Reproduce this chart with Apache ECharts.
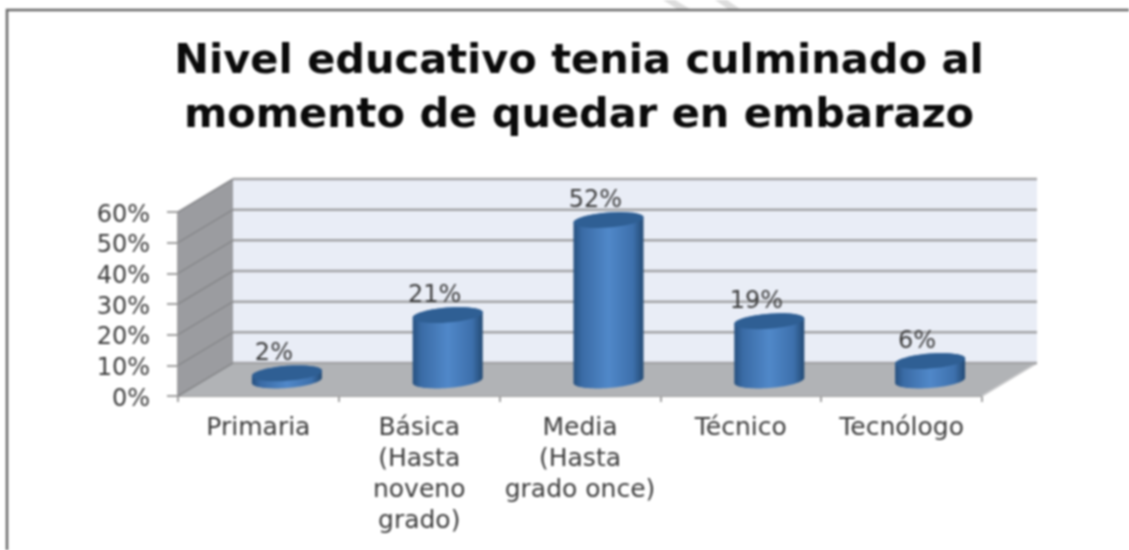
<!DOCTYPE html>
<html>
<head>
<meta charset="utf-8">
<style>html,body{margin:0;padding:0;background:#fff}#c{width:1129px;height:550px;filter:blur(0.8px)}</style>
<script src="https://cdn.jsdelivr.net/npm/echarts@6/dist/echarts.min.js"></script>
</head>
<body>
<div id="c"></div>
<script>
const categories = ['Primaria', 'Básica\n(Hasta\nnoveno\ngrado)', 'Media\n(Hasta\ngrado once)', 'Técnico', 'Tecnólogo'];
const values = [2, 21, 52, 19, 6];
const yTicks = [0, 10, 20, 30, 40, 50, 60];
const titleLines = ['Nivel educativo tenia culminado al', 'momento de quedar en embarazo'];

const DX = 55, DY = -33;          // oblique depth of the 3D box
const UI = '"DejaVu Sans", sans-serif';

const chart = echarts.init(document.getElementById('c'), null, {renderer: 'canvas'});

function wallItem(params, api) {
  const cs = params.coordSys;
  const x0 = cs.x, x1 = cs.x + cs.width, yb = cs.y + cs.height, yt = cs.y;
  const shape = pts => ({points: pts});
  return {type: 'group', children: [
    {type: 'polygon', shape: shape([[x0 + DX, yt + DY], [x1 + DX, yt + DY], [x1 + DX, yb + DY], [x0 + DX, yb + DY]]), style: {fill: '#e9edf6'}},
    {type: 'polygon', shape: shape([[x0, yt], [x0 + DX, yt + DY], [x0 + DX, yb + DY], [x0, yb]]), style: {fill: '#9b9ca0'}},
    {type: 'polygon', shape: shape([[x0, yb], [x1, yb], [x1 + DX, yb + DY], [x0 + DX, yb + DY]]), style: {fill: '#b1b3b6'}},
    {type: 'polyline', shape: shape([[x1, yb], [x1 + DX, yb + DY]]), style: {stroke: '#c9c9cb', lineWidth: 1.5, fill: 'none'}}
  ]};
}

function gridItem(params, api) {
  const cs = params.coordSys;
  const y = api.coord([0, api.value(1)])[1];
  return {type: 'group', children: [
    {type: 'polyline', shape: {points: [[cs.x + DX, y + DY], [cs.x + cs.width + DX, y + DY]]},
      style: {stroke: '#a3a4a6', lineWidth: 2.5, fill: 'none'}},
    {type: 'polyline', shape: {points: [[cs.x, y], [cs.x + DX, y + DY]]},
      style: {stroke: '#87888b', lineWidth: 1.5, fill: 'none'}}
  ]};
}

function ellipsePts(cx, cy, rx, ry, from, to) {
  const pts = [], n = 40;
  for (let i = 0; i <= n; i++) {
    const t = from + (to - from) * i / n;
    const ex = rx * Math.cos(t);
    pts.push([cx + ex, cy + ry * Math.sin(t) - 0.075 * ex]);
  }
  return pts;
}

function cylItem(params, api) {
  const top = api.coord([api.value(0), api.value(1)]);
  const base = api.coord([api.value(0), 0]);
  const cx = top[0] + DX / 2 + 1, ty = top[1] + DY / 2, by = base[1] + DY / 2 + 1;
  const rx = 35, ry = 7.5;
  const body = ellipsePts(cx, ty, rx, ry, Math.PI, 2 * Math.PI).concat(ellipsePts(cx, by, rx, ry, 0, Math.PI));
  return {type: 'group', children: [
    {type: 'polygon', shape: {points: body}, style: {
      fill: new echarts.graphic.LinearGradient(0, 0, 1, 0, [
        {offset: 0, color: '#26507f'}, {offset: 0.12, color: '#3a6ba5'},
        {offset: 0.5, color: '#5088c9'}, {offset: 0.85, color: '#3d70ac'}, {offset: 1, color: '#234a74'}])}},
    {type: 'polygon', shape: {points: ellipsePts(cx, ty, rx, ry, 0, 2 * Math.PI)}, style: {fill: '#2f5f94'}},
    {type: 'text', style: {text: values[params.dataIndex] + '%', x: cx - 13, y: top[1] - 36,
      align: 'center', verticalAlign: 'middle', font: '24px ' + UI, fill: '#3c3c3c'}}
  ]};
}

chart.setOption({
  animation: false,
  backgroundColor: '#fff',
  title: {
    text: titleLines.join('\n'), left: 574, top: 30, textAlign: 'center',
    textStyle: {fontFamily: UI, fontWeight: 'bold', fontSize: 41.5, lineHeight: 54, color: '#0a0a0a'}
  },
  grid: {left: 178, right: 147, top: 212, bottom: 154},
  xAxis: {
    type: 'category', data: categories, boundaryGap: true,
    axisLine: {lineStyle: {color: '#a0a0a0', width: 2}},
    axisTick: {show: true, alignWithLabel: false, length: 6, lineStyle: {color: '#a0a0a0', width: 2}},
    axisLabel: {interval: 0, fontFamily: UI, fontSize: 25, lineHeight: 31, color: '#3c3c3c', margin: 17}
  },
  yAxis: {
    type: 'value', min: 0, max: 60, interval: 10,
    axisLine: {show: true, lineStyle: {color: '#a0a0a0', width: 2}},
    axisTick: {show: true, length: 11, lineStyle: {color: '#a0a0a0', width: 2}},
    axisLabel: {formatter: '{value}%', fontFamily: UI, fontSize: 24, color: '#3c3c3c', margin: 28, verticalAlign: 'top', lineHeight: 7},
    splitLine: {show: false}
  },
  graphic: [
    {type: 'polygon', shape: {points: [[663, 0], [675, 0], [690, 9], [677, 9]]}, style: {fill: '#dddddd'}},
    {type: 'polygon', shape: {points: [[715, 0], [727, 0], [740, 9], [728, 9]]}, style: {fill: '#dddddd'}},
    {type: 'polyline', shape: {points: [[7, 550], [7, 10], [1129, 10]]}, style: {stroke: '#686868', lineWidth: 2.5, fill: 'none'}}
  ],
  series: [
    {type: 'custom', name: 'walls', data: [[0, 0]], renderItem: wallItem, clip: false, z: 1, encode: {x: 0, y: 1}, silent: true},
    {type: 'custom', name: 'grid', data: yTicks.map(v => [0, v]), renderItem: gridItem, clip: false, z: 2, encode: {x: 0, y: 1}, silent: true},
    {type: 'custom', name: 'Nivel educativo', data: values.map((v, i) => [i, v]), renderItem: cylItem, clip: false, z: 3, encode: {x: 0, y: 1}}
  ]
});
</script>
</body>
</html>
